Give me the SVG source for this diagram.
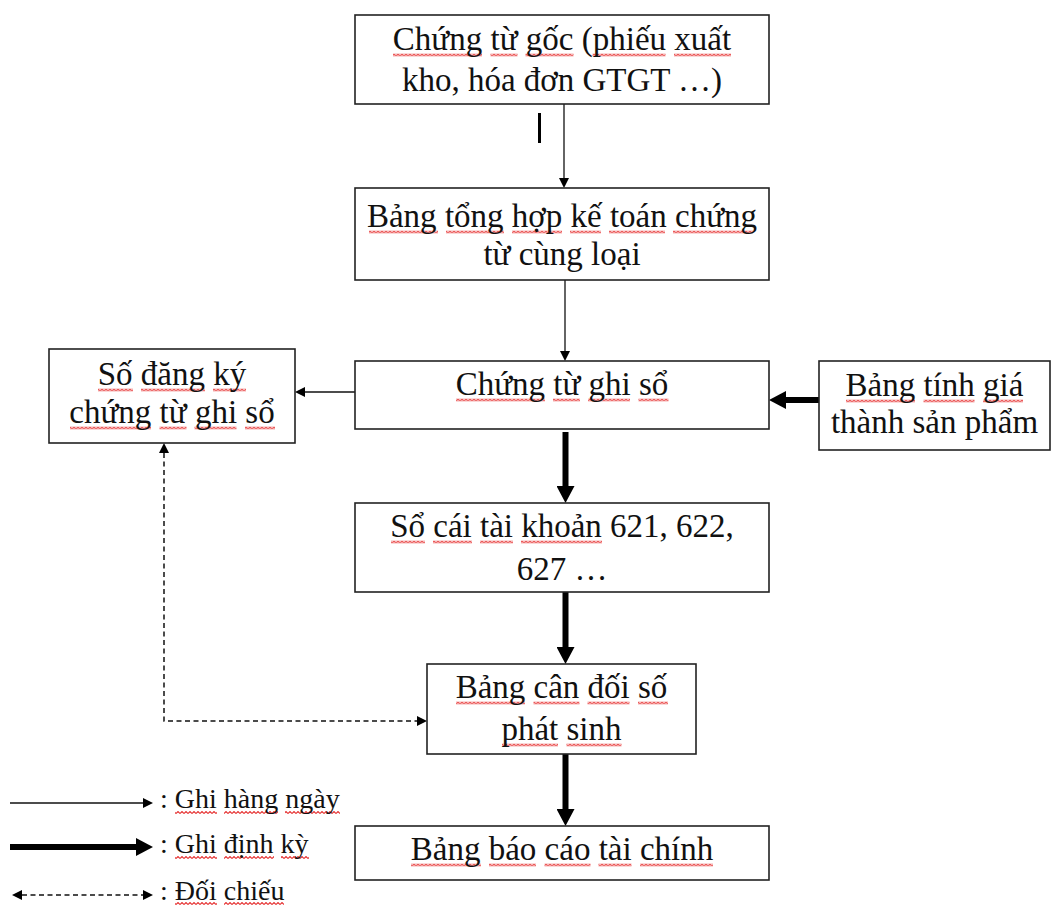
<svg xmlns="http://www.w3.org/2000/svg" width="1051" height="905" viewBox="0 0 1051 905">
  <style>
    .box { fill: #ffffff; stroke: #222222; stroke-width: 1.6; }
    .t { font-family: "Liberation Serif", "Times New Roman", serif; font-size: 33px; fill: #111111; text-anchor: middle; }
    .lg { font-family: "Liberation Serif", "Times New Roman", serif; font-size: 28px; fill: #111111; }
    .wv { fill: url(#wave); }
    .thin { stroke: #111111; stroke-width: 1.3; fill: none; }
    .thick { stroke: #000000; stroke-width: 6; fill: none; }
    .dash { stroke: #111111; stroke-width: 1.5; fill: none; stroke-dasharray: 5 3.5; }
  </style>
  <defs>
    <!-- red squiggle used for spell-check underlines -->
    <pattern id="wave" patternUnits="userSpaceOnUse" x="0" y="0" width="4" height="3">
      <path d="M0,2.5 L2,0.5 L4,2.5" fill="none" stroke="#e63535" stroke-width="1.1"/>
    </pattern>
    <marker id="headThin" markerUnits="userSpaceOnUse" markerWidth="10" markerHeight="10" refX="0" refY="5" orient="auto-start-reverse">
      <path d="M0,0 L10,5 L0,10 Z" fill="#000"/>
    </marker>
    <marker id="headThick" markerUnits="userSpaceOnUse" markerWidth="17" markerHeight="18" refX="0" refY="9" orient="auto-start-reverse">
      <path d="M0,0 L17,9 L0,18 Z" fill="#000"/>
    </marker>
  </defs>

  <rect width="1051" height="905" fill="#ffffff"/>

  <!-- connectors -->
  <g id="connectors">
    <line class="thin" x1="564" y1="104" x2="564" y2="178" marker-end="url(#headThin)"/>
    <line class="thin" x1="565" y1="280" x2="565" y2="351" marker-end="url(#headThin)"/>
    <line class="thin" x1="355" y1="392" x2="305" y2="392" marker-end="url(#headThin)"/>
    <line class="thick" x1="819" y1="400" x2="786" y2="400" marker-end="url(#headThick)"/>
    <line class="thick" x1="565.5" y1="432" x2="565.5" y2="486" marker-end="url(#headThick)"/>
    <line class="thick" x1="565.5" y1="592" x2="565.5" y2="647" marker-end="url(#headThick)"/>
    <line class="thick" x1="565.5" y1="754" x2="565.5" y2="809" marker-end="url(#headThick)"/>
    <path class="dash" d="M164,453 L164,721 L417,721" marker-start="url(#headThin)" marker-end="url(#headThin)"/>
    <!-- short stray stroke below the first box -->
    <line x1="539.5" y1="113" x2="539.5" y2="143" stroke="#000" stroke-width="3"/>
  </g>

  <g id="chung-tu-goc">
    <rect class="box" x="355" y="15" width="414" height="89"/>
    <g transform="translate(0,53.5)">
      <rect class="wv" x="393" y="0" width="89" height="3"/>
      <rect class="wv" x="490.5" y="0" width="27" height="3"/>
      <rect class="wv" x="525.5" y="0" width="48" height="3"/>
      <rect class="wv" x="592.5" y="0" width="73" height="3"/>
      <rect class="wv" x="674" y="0" width="57" height="3"/>
    </g>
    <text class="t" x="562" y="50"><tspan>Chứng</tspan> <tspan>từ</tspan> <tspan>gốc</tspan> (<tspan>phiếu</tspan> <tspan>xuất</tspan></text>
    <text class="t" x="562" y="91">kho, hóa đơn GTGT …)</text>
  </g>

  <g id="bang-tong-hop">
    <rect class="box" x="355" y="188" width="414" height="92"/>
    <g transform="translate(0,230.5)">
      <rect class="wv" x="369" y="0" width="69" height="3"/>
      <rect class="wv" x="446" y="0" width="58" height="3"/>
      <rect class="wv" x="512" y="0" width="50" height="3"/>
      <rect class="wv" x="570" y="0" width="31" height="3"/>
      <rect class="wv" x="609" y="0" width="56" height="3"/>
      <rect class="wv" x="673" y="0" width="80" height="3"/>
    </g>
    <text class="t" x="562" y="227"><tspan>Bảng</tspan> <tspan>tổng</tspan> <tspan>hợp</tspan> <tspan>kế</tspan> <tspan>toán</tspan> <tspan>chứng</tspan></text>
    <text class="t" x="562" y="265">từ cùng loại</text>
  </g>

  <g id="chung-tu-ghi-so">
    <rect class="box" x="355" y="361" width="414" height="68"/>
    <g transform="translate(0,398.5)">
      <rect class="wv" x="456" y="0" width="89" height="3"/>
      <rect class="wv" x="553" y="0" width="27" height="3"/>
      <rect class="wv" x="588" y="0" width="42" height="3"/>
      <rect class="wv" x="638.5" y="0" width="30" height="3"/>
    </g>
    <text class="t" x="562" y="395"><tspan>Chứng</tspan> <tspan>từ</tspan> <tspan>ghi</tspan> <tspan>sổ</tspan></text>
  </g>

  <g id="so-dang-ky">
    <rect class="box" x="49" y="349" width="246" height="94"/>
    <g transform="translate(0,388.5)">
      <rect class="wv" x="98" y="0" width="35" height="3"/>
      <rect class="wv" x="141" y="0" width="64" height="3"/>
      <rect class="wv" x="213" y="0" width="33" height="3"/>
    </g>
    <g transform="translate(0,426.5)">
      <rect class="wv" x="70" y="0" width="81" height="3"/>
      <rect class="wv" x="159.5" y="0" width="27" height="3"/>
      <rect class="wv" x="194.5" y="0" width="42" height="3"/>
      <rect class="wv" x="245" y="0" width="30" height="3"/>
    </g>
    <text class="t" x="172" y="385"><tspan>Số</tspan> <tspan>đăng</tspan> <tspan>ký</tspan></text>
    <text class="t" x="172" y="423"><tspan>chứng</tspan> <tspan>từ</tspan> <tspan>ghi</tspan> <tspan>sổ</tspan></text>
  </g>

  <g id="bang-tinh-gia">
    <rect class="box" x="819" y="361" width="231" height="89"/>
    <g transform="translate(0,399.5)">
      <rect class="wv" x="846" y="0" width="69" height="3"/>
      <rect class="wv" x="923.5" y="0" width="51" height="3"/>
      <rect class="wv" x="983" y="0" width="40" height="3"/>
    </g>
    <text class="t" x="934.5" y="396"><tspan>Bảng</tspan> <tspan>tính</tspan> <tspan>giá</tspan></text>
    <text class="t" x="934.5" y="433">thành sản phẩm</text>
  </g>

  <g id="so-cai">
    <rect class="box" x="355" y="503" width="414" height="89"/>
    <g transform="translate(0,540.5)">
      <rect class="wv" x="391" y="0" width="34" height="3"/>
      <rect class="wv" x="433" y="0" width="39" height="3"/>
      <rect class="wv" x="480" y="0" width="33" height="3"/>
      <rect class="wv" x="521" y="0" width="81" height="3"/>
    </g>
    <text class="t" x="562" y="537"><tspan>Sổ</tspan> <tspan>cái</tspan> <tspan>tài</tspan> <tspan>khoản</tspan> 621, 622,</text>
    <text class="t" x="562" y="580">627 …</text>
  </g>

  <g id="bang-can-doi">
    <rect class="box" x="427" y="664" width="269" height="90"/>
    <g transform="translate(0,701.5)">
      <rect class="wv" x="456" y="0" width="69" height="3"/>
      <rect class="wv" x="533.5" y="0" width="46" height="3"/>
      <rect class="wv" x="587.5" y="0" width="42" height="3"/>
      <rect class="wv" x="638" y="0" width="30" height="3"/>
    </g>
    <g transform="translate(0,743.5)">
      <rect class="wv" x="502" y="0" width="56" height="3"/>
      <rect class="wv" x="566.5" y="0" width="55" height="3"/>
    </g>
    <text class="t" x="561.5" y="698"><tspan>Bảng</tspan> <tspan>cân</tspan> <tspan>đối</tspan> <tspan>số</tspan></text>
    <text class="t" x="561.5" y="740"><tspan>phát</tspan> <tspan>sinh</tspan></text>
  </g>

  <g id="bao-cao-tai-chinh">
    <rect class="box" x="355" y="826" width="414" height="54"/>
    <g transform="translate(0,863.5)">
      <rect class="wv" x="411" y="0" width="70" height="3"/>
      <rect class="wv" x="489" y="0" width="47" height="3"/>
      <rect class="wv" x="544.5" y="0" width="46" height="3"/>
      <rect class="wv" x="598.5" y="0" width="33" height="3"/>
      <rect class="wv" x="640" y="0" width="73" height="3"/>
    </g>
    <text class="t" x="562" y="860"><tspan>Bảng</tspan> <tspan>báo</tspan> <tspan>cáo</tspan> <tspan>tài</tspan> <tspan>chính</tspan></text>
  </g>

  <g id="legend">
    <line class="thin" x1="10" y1="803" x2="143" y2="803" marker-end="url(#headThin)"/>
    <g transform="translate(0,811)">
      <rect class="wv" x="175" y="0" width="42" height="3"/>
      <rect class="wv" x="224" y="0" width="54" height="3"/>
      <rect class="wv" x="285" y="0" width="55" height="3"/>
    </g>
    <text class="lg" x="160" y="808">: <tspan>Ghi</tspan> <tspan>hàng</tspan> <tspan>ngày</tspan></text>

    <line class="thick" x1="10" y1="847" x2="136" y2="847" marker-end="url(#headThick)"/>
    <g transform="translate(0,856)">
      <rect class="wv" x="175" y="0" width="42" height="3"/>
      <rect class="wv" x="224" y="0" width="50" height="3"/>
      <rect class="wv" x="281" y="0" width="28" height="3"/>
    </g>
    <text class="lg" x="160" y="853">: <tspan>Ghi</tspan> <tspan>định</tspan> <tspan>kỳ</tspan></text>

    <path class="dash" d="M22,895 L143,895" marker-start="url(#headThin)" marker-end="url(#headThin)"/>
    <g transform="translate(0,902)">
      <rect class="wv" x="175" y="0" width="42" height="3"/>
      <rect class="wv" x="224" y="0" width="60" height="3"/>
    </g>
    <text class="lg" x="160" y="900">: <tspan>Đối</tspan> <tspan>chiếu</tspan></text>
  </g>
</svg>
